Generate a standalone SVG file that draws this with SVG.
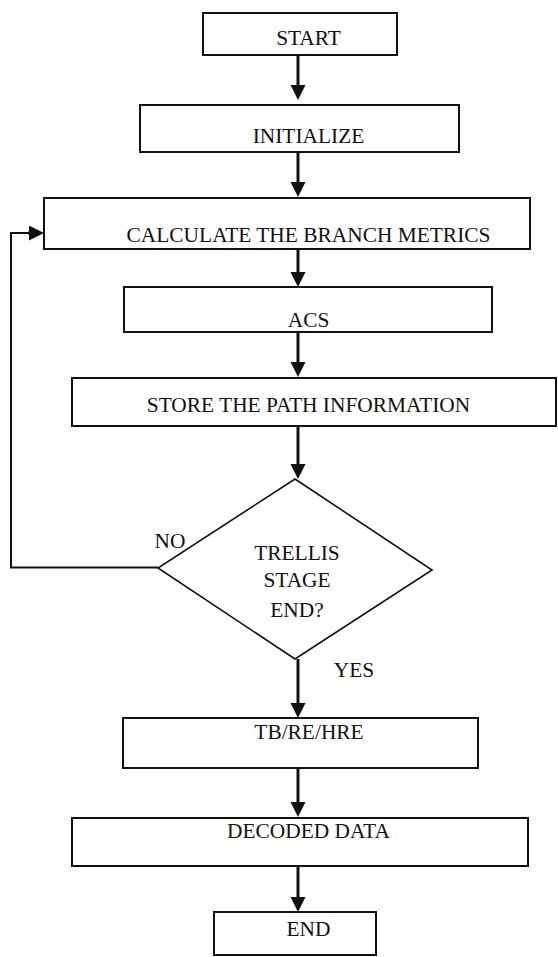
<svg xmlns="http://www.w3.org/2000/svg" width="558" height="957" viewBox="0 0 558 957">
<style>
.box{fill:#fff;stroke:#111;stroke-width:2}
.dia{fill:#fff;stroke:#111;stroke-width:1.6}
.t{font-family:"Liberation Serif","Times New Roman",serif;font-size:21.4px;fill:#111;text-anchor:middle}
.c{fill:none;stroke:#111;stroke-width:3}
.loop{fill:none;stroke:#111;stroke-width:2}
</style>
<defs>
<marker id="ah" markerUnits="userSpaceOnUse" markerWidth="16" markerHeight="16" viewBox="0 0 16 16" refX="9" refY="7.5" orient="auto">
<path d="M0,0 L15,7.5 L0,15 Z" fill="#111"/>
</marker>
</defs>
<rect width="558" height="957" fill="#fff"/>
<g id="connectors">
<line class="c" x1="298" y1="55" x2="298" y2="94" marker-end="url(#ah)"/>
<line class="c" x1="298" y1="152" x2="298" y2="191" marker-end="url(#ah)"/>
<line class="c" x1="298" y1="249" x2="298" y2="281" marker-end="url(#ah)"/>
<line class="c" x1="298" y1="332" x2="298" y2="371" marker-end="url(#ah)"/>
<line class="c" x1="298" y1="426" x2="298" y2="473" marker-end="url(#ah)"/>
<line class="c" x1="298" y1="659" x2="298" y2="712" marker-end="url(#ah)"/>
<line class="c" x1="298" y1="768" x2="298" y2="811" marker-end="url(#ah)"/>
<line class="c" x1="298" y1="866" x2="298" y2="906" marker-end="url(#ah)"/>
<polyline class="loop" points="158,567.5 11,567.5 11,233 30,233"/>
<line class="c" x1="28" y1="233" x2="38" y2="233" marker-end="url(#ah)"/>
<text class="t" x="170" y="548">NO</text>
<text class="t" x="354" y="677">YES</text>
</g>
<g id="start">
<rect class="box" x="203" y="13" width="194" height="42"/>
<text class="t" x="308.5" y="45">START</text>
</g>
<g id="initialize">
<rect class="box" x="140" y="105" width="319" height="47"/>
<text class="t" x="308.5" y="143">INITIALIZE</text>
</g>
<g id="calculate">
<rect class="box" x="44" y="198" width="486" height="51"/>
<text class="t" x="308.5" y="242">CALCULATE THE BRANCH METRICS</text>
</g>
<g id="acs">
<rect class="box" x="124" y="287" width="368" height="45"/>
<text class="t" x="308.5" y="327">ACS</text>
</g>
<g id="store">
<rect class="box" x="72" y="378" width="484" height="48"/>
<text class="t" x="308.5" y="412">STORE THE PATH INFORMATION</text>
</g>
<g id="decision">
<polygon class="dia" points="295,479 432,570 295,659 158,568"/>
<text class="t" x="297" y="560">TRELLIS</text>
<text class="t" x="297" y="587">STAGE</text>
<text class="t" x="297" y="617">END?</text>
</g>
<g id="traceback">
<rect class="box" x="123" y="718" width="355" height="50"/>
<text class="t" x="309" y="739">TB/RE/HRE</text>
</g>
<g id="decoded">
<rect class="box" x="72" y="818" width="456" height="48"/>
<text class="t" x="308.5" y="838">DECODED DATA</text>
</g>
<g id="end">
<rect class="box" x="214" y="912" width="162" height="43"/>
<text class="t" x="308.5" y="936">END</text>
</g>
</svg>
